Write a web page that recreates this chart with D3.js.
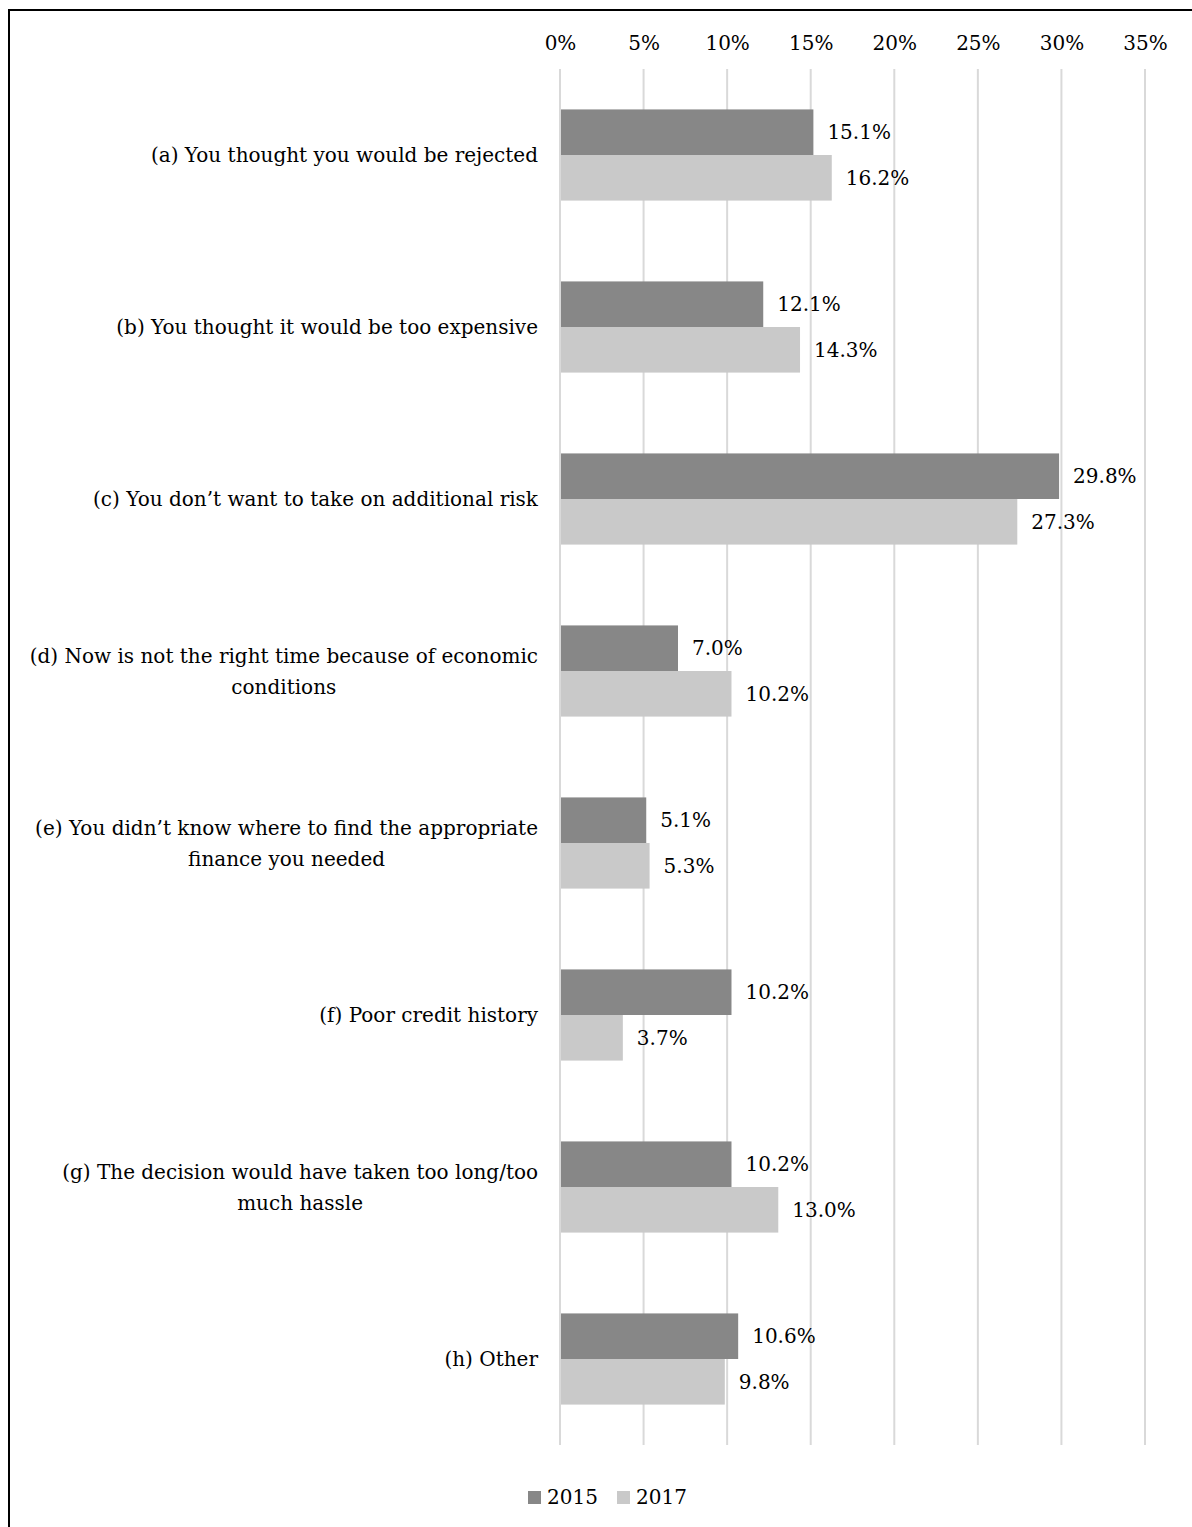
<!DOCTYPE html>
<html>
<head>
<meta charset="utf-8">
<script src="https://cdn.jsdelivr.net/npm/d3@7"></script>
<style>
  html, body { margin: 0; padding: 0; background: #fff; }
  svg { display: block; }
  text { font-family: "DejaVu Serif", "Liberation Serif", serif; fill: #000; }
</style>
</head>
<body>
<script>
const categories = [
  ["(a) You thought you would be rejected"],
  ["(b) You thought it would be too expensive"],
  ["(c) You don\u2019t want to take on additional risk"],
  ["(d) Now is not the right time because of economic", "conditions"],
  ["(e) You didn\u2019t know where to find the appropriate", "finance you needed"],
  ["(f) Poor credit history"],
  ["(g) The decision would have taken too long/too", "much hassle"],
  ["(h) Other"]
];
const series = ["2015", "2017"];
const values2015 = [15.1, 12.1, 29.8, 7.0, 5.1, 10.2, 10.2, 10.6];
const values2017 = [16.2, 14.3, 27.3, 10.2, 5.3, 3.7, 13.0, 9.8];
const tickValues = [0, 5, 10, 15, 20, 25, 30, 35];
const colors = ["#878787", "#c9c9c9"];

const W = 1192, H = 1527;
const FS = 20;
const svg = d3.select("body").append("svg").attr("width", W).attr("height", H);

// outer border (extends past right/bottom edge)
svg.append("rect").attr("x", 9).attr("y", 10).attr("width", W + 20).attr("height", H + 20)
  .attr("fill", "none").attr("stroke", "#000").attr("stroke-width", 2);

const x = d3.scaleLinear().domain([0, 35]).range([560, 1145]);
const y = d3.scaleBand().domain(d3.range(categories.length)).range([69, 1445]);

// gridlines
svg.append("g").selectAll("line").data(tickValues).join("line")
  .attr("x1", d => x(d)).attr("x2", d => x(d))
  .attr("y1", 69).attr("y2", 1445)
  .attr("stroke", "#d9d9d9").attr("stroke-width", 2);

// top axis labels
const axis = d3.axisTop(x).tickValues(tickValues).tickFormat(d => d + "%").tickSize(0).tickPadding(0);
const gAxis = svg.append("g").attr("transform", "translate(0,50)").call(axis);
gAxis.select(".domain").remove();
gAxis.selectAll("text").attr("font-size", FS).attr("font-family", "DejaVu Serif").attr("fill", "#000");

const barH = y.bandwidth() * 0.265;
const rows = categories.map((c, i) => ({ i, vals: [values2015[i], values2017[i]] }));

const g = svg.append("g");
rows.forEach(r => {
  const cy = y(r.i) + y.bandwidth() / 2;
  r.vals.forEach((v, k) => {
    const top = cy - barH + k * barH;
    g.append("rect").attr("x", x(0) + 1).attr("y", top)
      .attr("width", x(v) - x(0)).attr("height", barH).attr("fill", colors[k]);
    g.append("text").attr("x", x(v) + 15).attr("y", top + barH / 2)
      .attr("dy", "0.35em").attr("font-size", FS).text(v.toFixed(1) + "%");
  });
});

// category labels
const labelRight = 538;
categories.forEach((lines, i) => {
  const cy = y(i) + y.bandwidth() / 2;
  const lh = 31;
  const t = svg.append("text").attr("font-size", FS);
  const tmp = t.append("tspan").text(lines[0]);
  const w0 = tmp.node().getComputedTextLength();
  tmp.remove();
  const cx = labelRight - w0 / 2;
  t.attr("text-anchor", "middle");
  lines.forEach((ln, j) => {
    t.append("tspan").attr("x", cx)
      .attr("y", cy + (j - (lines.length - 1) / 2) * lh)
      .attr("dy", "0.35em").text(ln);
  });
});

// legend
const leg = svg.append("g").attr("transform", "translate(0,1497)");
const legX = [528, 617];
series.forEach((s, k) => {
  leg.append("rect").attr("x", legX[k]).attr("y", -6).attr("width", 13).attr("height", 13).attr("fill", colors[k]);
  leg.append("text").attr("x", legX[k] + 19).attr("y", 0).attr("dy", "0.35em").attr("font-size", FS).text(s);
});
</script>
</body>
</html>
